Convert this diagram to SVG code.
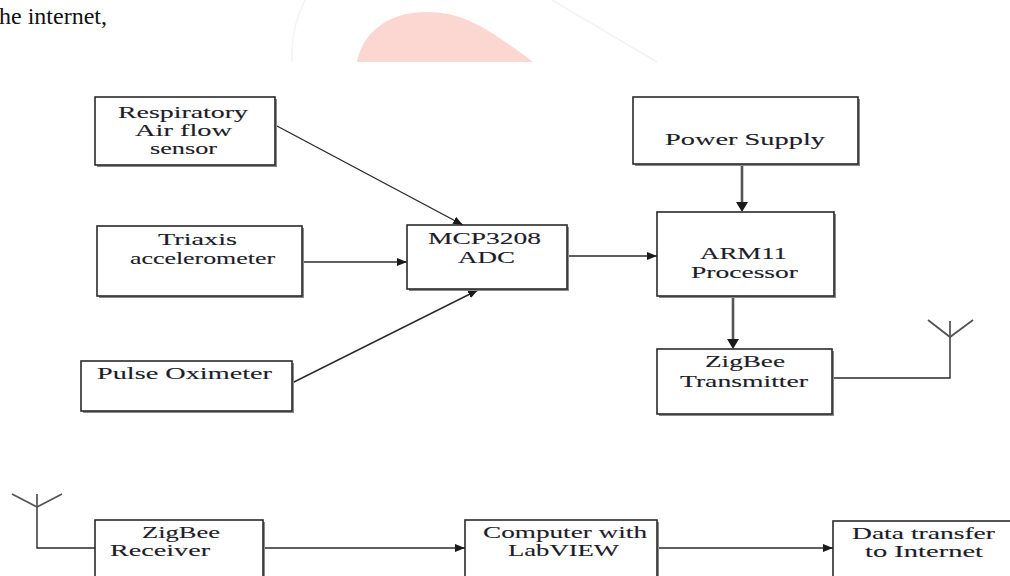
<svg xmlns="http://www.w3.org/2000/svg" width="1010" height="576" viewBox="0 0 1010 576">
<defs>
<style>
.box{fill:#fff;stroke:#2a2a2a;stroke-width:1.6}
.sh{fill:#8a8a8a}
.t{font-family:"Liberation Serif","Times New Roman",serif;font-size:17px;fill:#1c1c2a;stroke:#1c1c2a;stroke-width:0.12}
.ln{fill:none;stroke:#2a2a2a;stroke-width:1.4}
.thick{fill:none;stroke:#555;stroke-width:2.6}
.ant{fill:none;stroke:#555;stroke-width:1.8}
</style>
<marker id="ah" markerUnits="userSpaceOnUse" markerWidth="10" markerHeight="8" refX="10" refY="4" orient="auto">
<path d="M0,0 L10,4 L0,8 z" fill="#1a1a1a"/>
</marker>
</defs>
<rect width="1010" height="576" fill="#fff"/>
<g id="watermark">
<path d="M305,0 Q290,30 292,62" fill="none" stroke="#f3f3f3" stroke-width="1.5"/>
<path d="M552,0 L657,62" fill="none" stroke="#f3f3f3" stroke-width="1.5"/>
<path d="M357,62 C362,35 385,12 427,12 C458,12 478,24 498,37 C513,47 524,55 533,62 Z" fill="#fcd7d2"/>
<text x="107" y="24" text-anchor="end" style="font-family:'Liberation Serif',serif;font-size:24px;fill:#111">he internet,</text>
</g>
<g id="connectors">
<line class="ln" x1="277" y1="126" x2="463" y2="225" marker-end="url(#ah)"/>
<line class="ln" x1="302" y1="262" x2="407" y2="262" marker-end="url(#ah)"/>
<line class="ln" x1="292" y1="383" x2="478" y2="290" marker-end="url(#ah)"/>
<line class="ln" x1="567" y1="256" x2="657" y2="256" marker-end="url(#ah)"/>
<line class="thick" x1="742" y1="165" x2="742" y2="202"/>
<path d="M736,202 L748,202 L742,212 z" fill="#1a1a1a"/>
<line class="thick" x1="733" y1="297" x2="733" y2="339"/>
<path d="M727,339 L739,339 L733,349 z" fill="#1a1a1a"/>
<polyline class="ln" points="832,378 950,378 950,321"/>
<polyline class="ant" points="928,320 950,337 973,320"/>
<polyline class="ln" points="95,548 37,548 37,494"/>
<polyline class="ant" points="12,494 37,507 62,494"/>
<line class="ln" x1="263" y1="548" x2="465" y2="548" marker-end="url(#ah)"/>
<line class="ln" x1="657" y1="548" x2="833" y2="548" marker-end="url(#ah)"/>
</g>
<g id="respiratory">
<rect class="sh" x="97" y="99" width="180" height="68"/>
<rect class="box" x="95" y="97" width="180" height="68"/>
<text class="t" x="118" y="118" textLength="130" lengthAdjust="spacingAndGlyphs">Respiratory</text>
<text class="t" x="135" y="136" textLength="97" lengthAdjust="spacingAndGlyphs">Air flow</text>
<text class="t" x="150" y="154" textLength="67" lengthAdjust="spacingAndGlyphs">sensor</text>
</g>
<g id="triaxis">
<rect class="sh" x="99" y="228" width="205" height="70"/>
<rect class="box" x="97" y="226" width="205" height="70"/>
<text class="t" x="158" y="245" textLength="79" lengthAdjust="spacingAndGlyphs">Triaxis</text>
<text class="t" x="130" y="264" textLength="145" lengthAdjust="spacingAndGlyphs">accelerometer</text>
</g>
<g id="pulse">
<rect class="sh" x="83" y="363" width="211" height="50"/>
<rect class="box" x="81" y="361" width="211" height="50"/>
<text class="t" x="97" y="379" textLength="175" lengthAdjust="spacingAndGlyphs">Pulse Oximeter</text>
</g>
<g id="mcp3208">
<rect class="sh" x="409" y="227" width="160" height="64"/>
<rect class="box" x="407" y="225" width="160" height="64"/>
<text class="t" x="428" y="244" textLength="113" lengthAdjust="spacingAndGlyphs">MCP3208</text>
<text class="t" x="458" y="263" textLength="57" lengthAdjust="spacingAndGlyphs">ADC</text>
</g>
<g id="power">
<rect class="sh" x="635" y="99" width="225" height="67"/>
<rect class="box" x="633" y="97" width="225" height="67"/>
<text class="t" x="665" y="145" textLength="160" lengthAdjust="spacingAndGlyphs">Power Supply</text>
</g>
<g id="arm11">
<rect class="sh" x="659" y="214" width="177" height="84"/>
<rect class="box" x="657" y="212" width="177" height="84"/>
<text class="t" x="700" y="259" textLength="87" lengthAdjust="spacingAndGlyphs">ARM11</text>
<text class="t" x="691" y="278" textLength="107" lengthAdjust="spacingAndGlyphs">Processor</text>
</g>
<g id="zigbee-tx">
<rect class="sh" x="659" y="351" width="175" height="65"/>
<rect class="box" x="657" y="349" width="175" height="65"/>
<text class="t" x="705" y="367" textLength="80" lengthAdjust="spacingAndGlyphs">ZigBee</text>
<text class="t" x="680" y="387" textLength="128" lengthAdjust="spacingAndGlyphs">Transmitter</text>
</g>
<g id="zigbee-rx">
<rect class="sh" x="97" y="522" width="168" height="70"/>
<rect class="box" x="95" y="520" width="168" height="70"/>
<text class="t" x="142" y="538" textLength="78" lengthAdjust="spacingAndGlyphs">ZigBee</text>
<text class="t" x="110" y="556" textLength="100" lengthAdjust="spacingAndGlyphs">Receiver</text>
</g>
<g id="computer">
<rect class="sh" x="467" y="522" width="192" height="70"/>
<rect class="box" x="465" y="520" width="192" height="70"/>
<text class="t" x="483" y="538" textLength="164" lengthAdjust="spacingAndGlyphs">Computer with</text>
<text class="t" x="508" y="556" textLength="111" lengthAdjust="spacingAndGlyphs">LabVIEW</text>
</g>
<g id="data-transfer">
<rect class="sh" x="835" y="523" width="190" height="70"/>
<rect class="box" x="833" y="521" width="190" height="70"/>
<text class="t" x="852" y="539" textLength="143" lengthAdjust="spacingAndGlyphs">Data transfer</text>
<text class="t" x="865" y="557" textLength="118" lengthAdjust="spacingAndGlyphs">to Internet</text>
</g>
</svg>
